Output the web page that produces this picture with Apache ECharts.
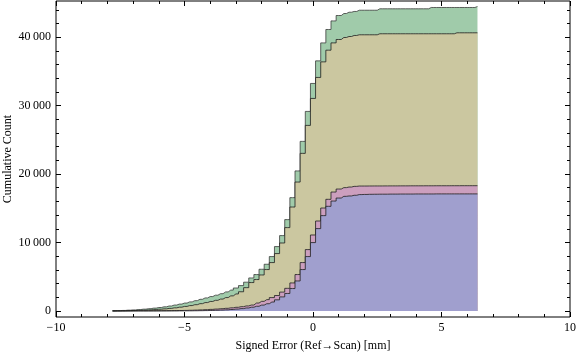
<!DOCTYPE html>
<html><head><meta charset="utf-8">
<script src="https://cdn.jsdelivr.net/npm/echarts@6/dist/echarts.min.js"></script>
<style>html,body{margin:0;padding:0;background:#fff}#c{width:576px;height:357px}</style>
</head><body><div id="c"></div>
<script>
// bin centres (mm)
const binX = [-7.8,-7.6,-7.4,-7.2,-7.0,-6.8,-6.6,-6.4,-6.2,-6.0,-5.8,-5.6,-5.4,-5.2,-5.0,-4.8,-4.6,-4.4,-4.2,-4.0,-3.8,-3.6,-3.4,-3.2,-3.0,-2.8,-2.6,-2.4,-2.2,-2.0,-1.8,-1.6,-1.4,-1.2,-1.0,-0.8,-0.6,-0.4,-0.2,0.0,0.2,0.4,0.6,0.8,1.0,1.2,1.4,1.6,1.8,2.0,2.2,2.4,2.6,2.8,3.0,3.2,3.4,3.6,3.8,4.0,4.2,4.4,4.6,4.8,5.0,5.2,5.4,5.6,5.8,6.0,6.2,6.4];
// stacked cumulative counts (top of each band)
const blueTop = [0,0,0,0,0,0,0,0,0,0,0,0,0,5,10,15,25,35,50,70,95,125,160,210,270,340,430,540,680,850,1050,1300,1620,2050,2550,3270,4380,6044,7942,9985,12029,13927,15285,16058,16496,16745,16800,16900,17000,17020,17040,17050,17060,17060,17070,17070,17080,17080,17080,17090,17090,17090,17090,17100,17100,17100,17100,17100,17100,17100,17100,17100];
const pinkTop = [0,0,0,5,5,10,10,15,20,25,30,40,50,60,75,95,120,150,185,225,270,320,380,450,530,620,730,860,1150,1400,1650,1950,2250,2750,3300,4088,5314,7066,8964,11095,13139,15036,16307,17372,17810,18015,18102,18200,18248,18250,18255,18260,18260,18265,18270,18270,18275,18275,18280,18280,18280,18285,18285,18290,18290,18290,18295,18295,18300,18300,18300,18300];
const tanTop = [0,10,20,35,55,80,110,150,195,245,300,370,450,550,660,780,910,1060,1220,1380,1550,1730,1950,2200,2480,2800,3400,4146,4584,5255,6044,7066,8380,9927,12175,15182,18832,23022,27109,31051,34117,36394,38102,39168,39664,39956,40100,40250,40350,40350,40350,40350,40500,40500,40500,40500,40500,40500,40500,40500,40500,40500,40500,40500,40500,40500,40500,40640,40640,40640,40640,40640];
const greenTop = [20,40,70,110,150,200,260,330,410,500,600,720,860,1000,1150,1320,1500,1700,1900,2100,2300,2520,2780,3050,3350,3700,4200,4818,5314,6088,6818,7942,9401,11007,13343,16555,20460,24774,29153,33241,36540,39168,41124,42380,43168,43460,43650,43760,43940,43940,43940,43940,44150,44150,44150,44150,44150,44150,44150,44150,44150,44150,44340,44340,44340,44340,44340,44340,44340,44340,44340,44480];
const yTicks = [0,10000,20000,30000,40000];
const yMinorTicks = [2000,4000,6000,8000,12000,14000,16000,18000,22000,24000,26000,28000,32000,34000,36000,38000,42000,44000];

const bands = [
  {name:'green', top:greenTop, fill:'#a0cbaa', edge:'rgba(50,50,50,0.75)'},
  {name:'tan',   top:tanTop,   fill:'#cbc7a0', edge:'rgba(30,30,30,0.8)'},
  {name:'pink',  top:pinkTop,  fill:'#cc9fbe', edge:'rgba(30,30,30,0.8)'},
  {name:'blue',  top:blueTop,  fill:'#a09fce', edge:'rgba(30,30,30,0.8)'}
];

const font = '"Liberation Serif","DejaVu Serif",serif';
const fmtX = v => (v < 0 ? '\u2212' + Math.abs(v) : String(v));
const fmtY = v => {
  if (v >= 1000) { const s = String(v); return s.slice(0, s.length-3) + '\u2009' + s.slice(-3); }
  return String(v);
};
const Y0 = -888, Y1 = 45288;
function gridRect(show) {
  return {left:56, right:6, top:1, bottom:40, containLabel:false, outerBoundsMode:'none',
    show:show, borderColor:'#000', borderWidth:1, backgroundColor:'transparent'};
}
const tickStyle = {color:'#000', width:1};
const noLine = () => ({show:false, onZero:false});
const chart = echarts.init(document.getElementById('c'), null, {renderer:'canvas'});
chart.setOption({
  animation:false,
  grid:[gridRect(true), gridRect(false)],
  xAxis:[
    {type:'value', gridIndex:0, min:-10, max:10, interval:5, position:'bottom',
      name:'Signed Error (Ref\u2192Scan) [mm]', nameLocation:'middle', nameGap:23, nameMoveOverlap:false,
      nameTextStyle:{fontFamily:font, fontSize:12, color:'#000'},
      axisLine:noLine(),
      axisTick:{show:true, inside:true, length:5, lineStyle:tickStyle},
      minorTick:{show:true, splitNumber:5, length:3, lineStyle:tickStyle},
      splitLine:{show:false}, minorSplitLine:{show:false},
      axisLabel:{show:true, fontFamily:font, fontSize:12, color:'#000', margin:5, formatter:fmtX}},
    {type:'value', gridIndex:0, min:-10, max:10, interval:5, position:'top',
      axisLine:noLine(),
      axisTick:{show:true, inside:true, length:5, lineStyle:tickStyle},
      minorTick:{show:true, splitNumber:5, length:3, lineStyle:tickStyle},
      splitLine:{show:false}, axisLabel:{show:false}},
    {type:'value', gridIndex:1, min:-10, max:10, show:false}
  ],
  yAxis:[
    {type:'value', gridIndex:0, min:Y0, max:Y1, position:'left',
      name:'Cumulative Count', nameLocation:'middle', nameGap:42, nameMoveOverlap:false,
      nameTextStyle:{fontFamily:font, fontSize:12, color:'#000'},
      axisLine:noLine(),
      axisTick:{show:true, inside:true, length:5, lineStyle:tickStyle, customValues:yTicks},
      splitLine:{show:false},
      axisLabel:{show:true, fontFamily:font, fontSize:12, color:'#000', margin:5,
        formatter:fmtY, customValues:yTicks}},
    {type:'value', gridIndex:0, min:Y0, max:Y1, position:'right',
      axisLine:noLine(),
      axisTick:{show:true, inside:true, length:5, lineStyle:tickStyle, customValues:yTicks},
      splitLine:{show:false}, axisLabel:{show:false}},
    {type:'value', gridIndex:1, min:Y0, max:Y1, position:'left',
      axisLine:noLine(),
      axisTick:{show:true, inside:true, length:3, lineStyle:tickStyle, customValues:yMinorTicks},
      splitLine:{show:false}, axisLabel:{show:false}},
    {type:'value', gridIndex:1, min:Y0, max:Y1, position:'right',
      axisLine:noLine(),
      axisTick:{show:true, inside:true, length:3, lineStyle:tickStyle, customValues:yMinorTicks},
      splitLine:{show:false}, axisLabel:{show:false}}
  ],
  series: bands.map((b, i) => ({
    type:'line', name:b.name, step:'middle', symbol:'none', z:2+i,
    xAxisIndex:0, yAxisIndex:0,
    data: binX.map((x, k) => [x, b.top[k]]),
    lineStyle:{color:b.edge, width:1},
    areaStyle:{color:b.fill, opacity:1, origin:0}
  }))
});
</script>
</body></html>
